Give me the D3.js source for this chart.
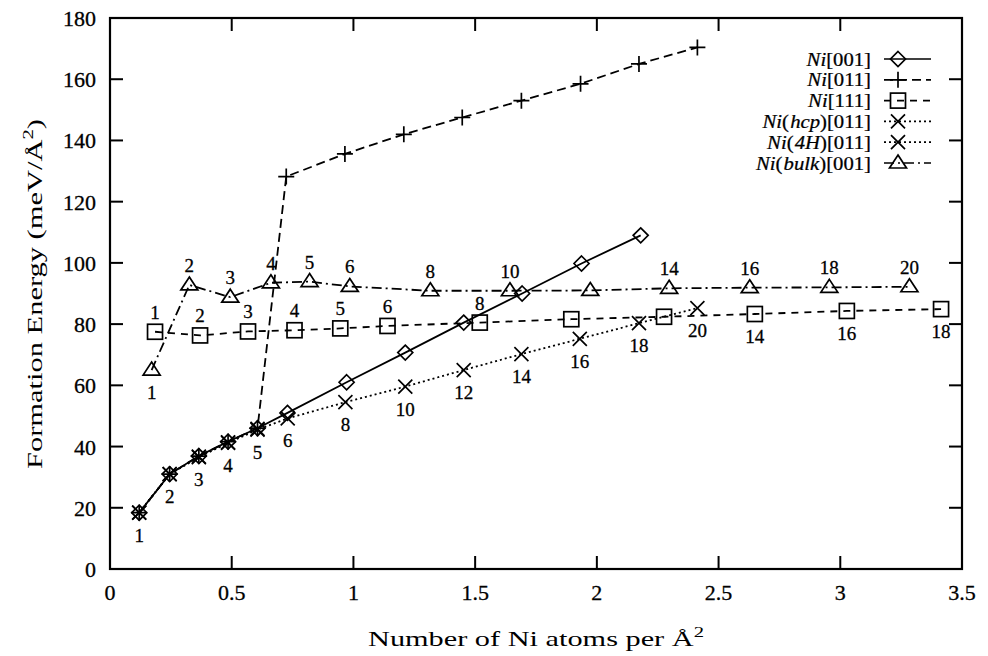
<!DOCTYPE html>
<html><head><meta charset="utf-8">
<script src="https://cdn.jsdelivr.net/npm/d3@7"></script>
<style>body{margin:0;background:#fff}</style>
</head><body>
<svg id="c" width="988" height="656"></svg>
<script>
// ---- data ----
const xTicks = [0, 0.5, 1, 1.5, 2, 2.5, 3, 3.5];
const xTickLabels = ["0", "0.5", "1", "1.5", "2", "2.5", "3", "3.5"];
const yTicks = [0, 20, 40, 60, 80, 100, 120, 140, 160, 180];
const yTickLabels = ["0", "20", "40", "60", "80", "100", "120", "140", "160", "180"];

const x001 = [0.12, 0.245, 0.365, 0.485, 0.606, 0.729, 0.972, 1.213, 1.453, 1.693, 1.937, 2.18];
const v001 = [18.4, 31, 36.9, 41.6, 46, 51, 61, 70.7, 80.5, 90, 99.8, 109];

const x011 = [0.12, 0.245, 0.365, 0.485, 0.606, 0.724, 0.965, 1.207, 1.447, 1.69, 1.933, 2.173, 2.413];
const v011 = [18.4, 31, 36.9, 41.6, 46, 128.2, 135.6, 142, 147.5, 153, 158.5, 165, 170.4];

const x111 = [0.185, 0.37, 0.567, 0.758, 0.946, 1.14, 1.519, 1.895, 2.276, 2.649, 3.027, 3.414];
const v111 = [77.5, 76.3, 77.6, 78, 78.6, 79.4, 80.5, 81.6, 82.4, 83.3, 84.3, 84.9];
const lab111 = ["1", "2", "3", "4", "5", "6", "8", "", "", "14", "16", "18"];
const below111 = [false, false, false, false, false, false, false, false, false, true, true, true];

const xHcp = [0.12, 0.245, 0.365, 0.485, 0.606, 0.73, 0.967, 1.213, 1.453, 1.69, 1.93, 2.173, 2.413];
const vHcp = [18.4, 31, 36.5, 41.2, 45.5, 49.2, 54.5, 59.6, 65, 70.2, 75.2, 80.3, 85.2];
const labHcp = ["1", "2", "3", "4", "5", "6", "8", "10", "12", "14", "16", "18", "20"];

const x4H = [0.12, 0.245, 0.365, 0.485, 0.606];
const v4H = [18.4, 31, 36.7, 41.4, 45.8];

const xBulk = [0.171, 0.326, 0.494, 0.661, 0.82, 0.985, 1.316, 1.643, 1.973, 2.297, 2.628, 2.955, 3.284];
const vBulk = [65, 92.8, 88.8, 93.5, 93.9, 92.3, 90.9, 90.9, 91, 91.7, 91.9, 92, 92.2];
const labBulk = ["1", "2", "3", "4", "5", "6", "8", "10", "", "14", "16", "18", "20"];
const belowBulk = [true, false, false, false, false, false, false, false, false, false, false, false, false];

const seriesNames = [
  [["Ni", true], ["[001]", false]],
  [["Ni", true], ["[011]", false]],
  [["Ni", true], ["[111]", false]],
  [["Ni", true], ["(", false], ["hcp", true], [")[011]", false]],
  [["Ni", true], ["(", false], ["4H", true], [")[011]", false]],
  [["Ni", true], ["(", false], ["bulk", true], [")[001]", false]]
];

// ---- layout ----
const W = 988, H = 656;
const L = 110, R = 962, T = 18, B = 569;
const svg = d3.select("#c");
const FONT = "'Liberation Serif', 'DejaVu Serif', serif";

const x = d3.scaleLinear().domain([0, 3.5]).range([L, R]);
const y = d3.scaleLinear().domain([0, 180]).range([B, T]);

svg.append("rect").attr("width", W).attr("height", H).attr("fill", "#fff");

function txt(sel, px, py, size, anchor, sw) {
  return sel.append("text").attr("x", px).attr("y", py).attr("text-anchor", anchor || "middle")
    .attr("font-family", FONT).attr("font-size", size)
    .attr("fill", "#000").attr("stroke", "#000").attr("stroke-width", sw === undefined ? 0.3 : sw);
}

// ticks (inward on all four sides)
const TL = 13;
const g = svg.append("g").attr("stroke", "#000").attr("stroke-width", 2);
xTicks.forEach(t => {
  g.append("line").attr("x1", x(t)).attr("x2", x(t)).attr("y1", B).attr("y2", B - TL);
  g.append("line").attr("x1", x(t)).attr("x2", x(t)).attr("y1", T).attr("y2", T + TL);
});
yTicks.forEach(t => {
  g.append("line").attr("x1", L).attr("x2", L + TL).attr("y1", y(t)).attr("y2", y(t));
  g.append("line").attr("x1", R).attr("x2", R - TL).attr("y1", y(t)).attr("y2", y(t));
});
svg.append("rect").attr("x", L).attr("y", T).attr("width", R - L).attr("height", B - T)
  .attr("fill", "none").attr("stroke", "#000").attr("stroke-width", 2.2);

// tick labels
xTicks.forEach((t, i) => {
  txt(svg, x(t), B + 31, 22).text(xTickLabels[i]);
});
yTicks.forEach((t, i) => {
  txt(svg, L - 14, y(t) + 8, 22, "end").text(yTickLabels[i]);
});

// axis titles
const xt = txt(svg, 536, 646, 22, "middle", 0).attr("textLength", 336).attr("lengthAdjust", "spacingAndGlyphs");
xt.append("tspan").text("Number of Ni atoms per Å");
xt.append("tspan").attr("font-size", 15).attr("dy", -9).text("2");

const yt = txt(svg, 0, 0, 22, "middle", 0).attr("transform", "translate(42,294) rotate(-90)")
  .attr("textLength", 350).attr("lengthAdjust", "spacingAndGlyphs");
yt.append("tspan").text("Formation Energy (meV/Å");
yt.append("tspan").attr("font-size", 15).attr("dy", -9).text("2");
yt.append("tspan").attr("dy", 9).text(")");

// markers
function marker(sel, type, cx, cy) {
  const gm = sel.append("g").attr("fill", "none").attr("stroke", "#000").attr("stroke-width", 1.7);
  if (type === "diamond") {
    const s = 7.5;
    gm.append("path").attr("d", `M${cx},${cy - s}L${cx + s},${cy}L${cx},${cy + s}L${cx - s},${cy}Z`);
  } else if (type === "plus") {
    gm.append("path").attr("d", `M${cx - 8},${cy}H${cx + 8}M${cx},${cy - 8}V${cy + 8}`);
  } else if (type === "square") {
    gm.append("rect").attr("x", cx - 7.5).attr("y", cy - 7.5).attr("width", 15).attr("height", 15);
  } else if (type === "cross") {
    gm.append("path").attr("d", `M${cx - 7},${cy - 7}L${cx + 7},${cy + 7}M${cx - 7},${cy + 7}L${cx + 7},${cy - 7}`);
  } else if (type === "triangle") {
    gm.append("path").attr("d", `M${cx},${cy - 8}L${cx + 8.5},${cy + 5}L${cx - 8.5},${cy + 5}Z`);
  }
}

const series = [
  {xs: x001, vs: v001, m: "diamond", dash: null},
  {xs: x011, vs: v011, m: "plus", dash: "9,5"},
  {xs: x111, vs: v111, m: "square", dash: "7,6", labs: lab111, below: below111},
  {xs: xHcp, vs: vHcp, m: "cross", dash: "2,3", labs: labHcp, below: labHcp.map(() => true)},
  {xs: x4H, vs: v4H, m: "cross", dash: "2,3"},
  {xs: xBulk, vs: vBulk, m: "triangle", dash: "10,4,2,4", labs: labBulk, below: belowBulk}
];

const line = d3.line().x(d => x(d[0])).y(d => y(d[1]));
const plot = svg.append("g");
series.forEach(s => {
  const pts = s.xs.map((xv, i) => [xv, s.vs[i]]);
  plot.append("path").attr("d", line(pts)).attr("fill", "none").attr("stroke", "#000")
    .attr("stroke-width", 1.8).attr("stroke-dasharray", s.dash);
  pts.forEach(p => marker(plot, s.m, x(p[0]), y(p[1])));
  if (s.labs) {
    s.labs.forEach((lb, i) => {
      if (!lb) return;
      const py = s.below[i] ? y(s.vs[i]) + 29 : y(s.vs[i]) - 13;
      txt(plot, x(s.xs[i]), py, 19).text(lb);
    });
  }
});

// legend
const legY0 = 59, legDY = 20.8;
series.forEach((s, i) => {
  const ly = legY0 + i * legDY;
  const t = txt(svg, 0, 0, 18.5, "end", 0.25)
    .attr("transform", `translate(871,${ly + 6.5}) scale(1.12,1)`);
  seriesNames[i].forEach(([tx, it], j) => {
    t.append("tspan").attr("font-style", it ? "italic" : "normal")
      .attr("dx", j > 0 && it ? 1 : 0).text(tx);
  });
  svg.append("line").attr("x1", 884).attr("x2", 931).attr("y1", ly).attr("y2", ly)
    .attr("stroke", "#000").attr("stroke-width", 1.7).attr("stroke-dasharray", s.dash);
  marker(svg, s.m, 898, ly);
});
</script>
</body></html>
